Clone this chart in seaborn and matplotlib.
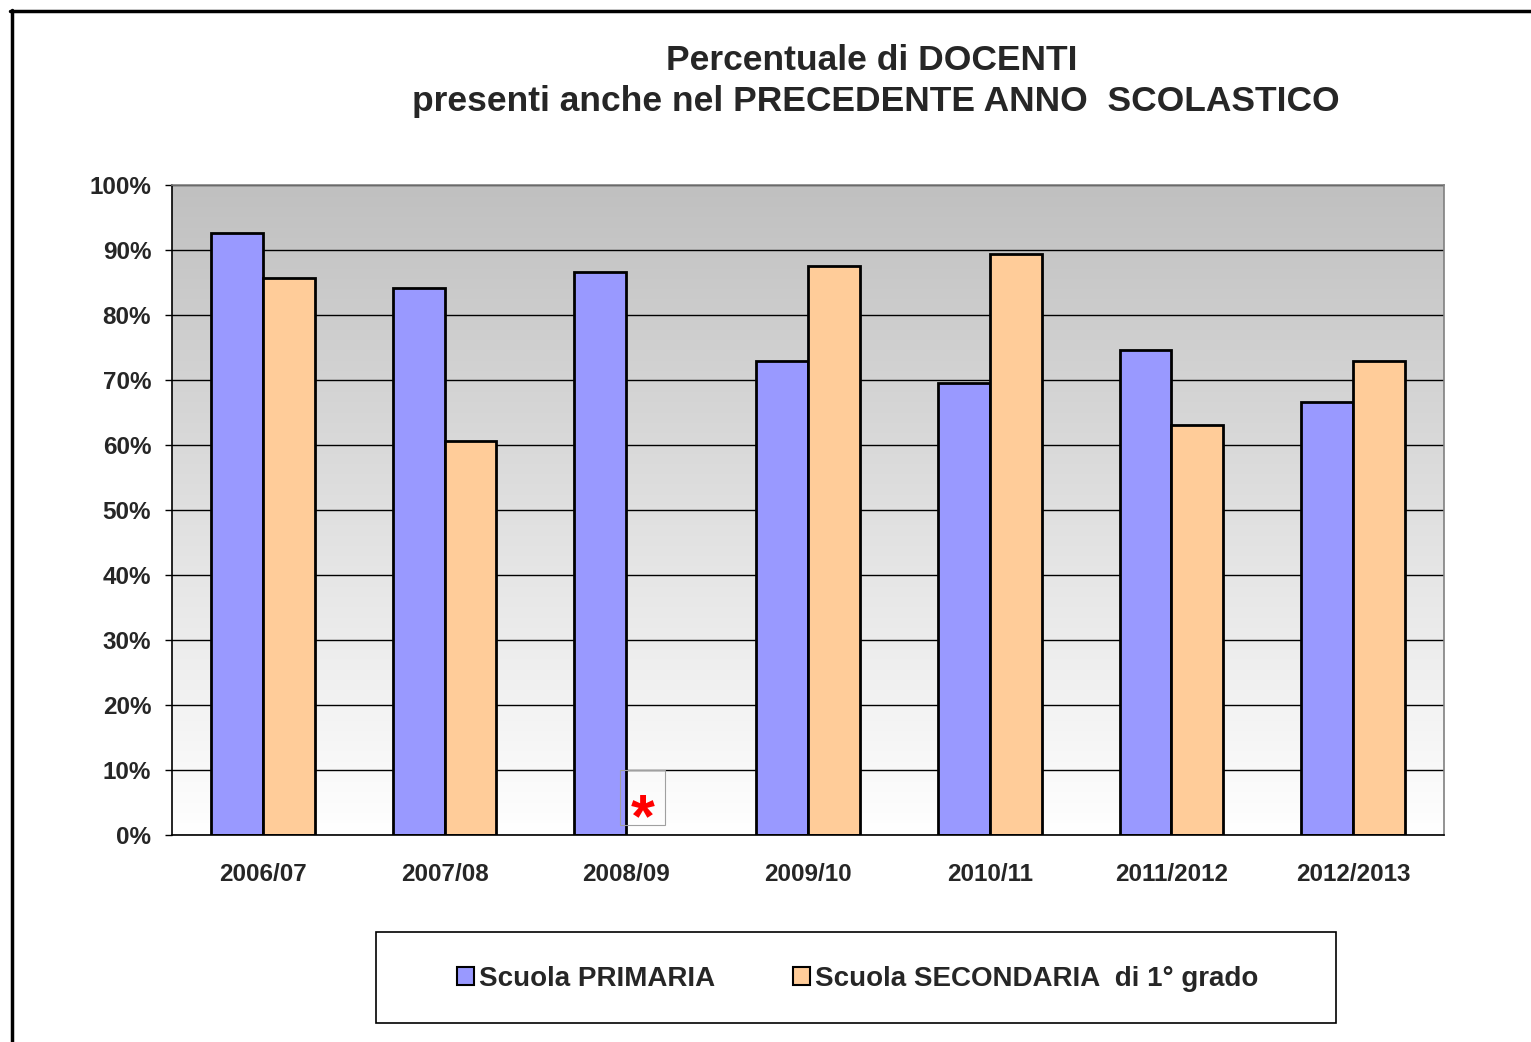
import numpy as np
import pandas as pd
import seaborn as sns
import matplotlib.pyplot as plt
from matplotlib.colors import LinearSegmentedColormap
from matplotlib.patches import Rectangle
from matplotlib.lines import Line2D

# data
anni = ["2006/07", "2007/08", "2008/09", "2009/10", "2010/11", "2011/2012", "2012/2013"]
primaria = [92.6, 84.2, 86.6, 72.9, 69.5, 74.6, 66.6]
secondaria = [85.7, 60.6, np.nan, 87.5, 89.4, 63.1, 72.9]
serie = ["Scuola PRIMARIA", "Scuola SECONDARIA  di 1° grado"]
colori = ["#9999FF", "#FFCC99"]

df = pd.DataFrame({
    "anno": anni * 2,
    "valore": primaria + secondaria,
    "scuola": [serie[0]] * len(anni) + [serie[1]] * len(anni),
})

sns.set_style("white")
plt.rcParams["font.family"] = ["Liberation Sans", "DejaVu Sans"]
plt.rcParams["font.weight"] = "bold"

fig = plt.figure(figsize=(15.31, 10.42), dpi=100)
ax = fig.add_axes([172 / 1531, 1 - 835 / 1042, 1272 / 1531, 650 / 1042])

# gray-to-white gradient background
cmap = LinearSegmentedColormap.from_list("bg", ["#FFFFFF", "#C0C0C0"])
grad = np.linspace(0, 1, 256).reshape(-1, 1)
ax.imshow(grad, cmap=cmap, origin="lower", aspect="auto",
          extent=[-0.5, len(anni) - 0.5, 0, 100], zorder=-2)

sns.barplot(data=df, x="anno", y="valore", hue="scuola", palette=colori,
            width=0.57, edgecolor="black", linewidth=2, ax=ax, zorder=2,
            saturation=1)

ax.set_xlim(-0.5, len(anni) - 0.5)
ax.set_ylim(0, 100)
ax.set_yticks(np.arange(0, 101, 10))
ax.set_yticklabels([f"{v}%" for v in range(0, 101, 10)])
ax.yaxis.grid(True, color="black", linewidth=1)
ax.set_axisbelow(True)
ax.set_xlabel("")
ax.set_ylabel("")

ax.set_xticks(np.arange(-0.5, len(anni)), minor=True)
ax.tick_params(axis="x", which="major", length=0, pad=20, labelsize=17.5)
ax.tick_params(axis="x", which="minor", length=5, width=1, color="black", direction="out")
ax.tick_params(axis="y", length=5, width=1, color="black", direction="out", pad=10, labelsize=17.5)
ax.tick_params(bottom=True, left=True)
for lab in ax.get_xticklabels() + ax.get_yticklabels():
    lab.set_fontweight("bold")

for side in ["left", "bottom"]:
    ax.spines[side].set_color("black")
    ax.spines[side].set_linewidth(1.2)
for side in ["top", "right"]:
    ax.spines[side].set_color("#808080")
    ax.spines[side].set_linewidth(1.2)

# missing data marker for 2008/09
ax.add_patch(Rectangle((1.967, 1.5), 0.247, 8.5, facecolor="none", edgecolor="#A0A0A0",
                       linewidth=0.8, zorder=4))
ax.text(2.09, 2.2, "*", color="red", fontsize=44, fontweight="bold",
        ha="center", va="center", zorder=5)

# title
fig.text(872 / 1531, 1 - 60 / 1042, "Percentuale di DOCENTI", ha="center", va="center",
         fontsize=25.5, fontweight="bold")
fig.text(876 / 1531, 1 - 101 / 1042, "presenti anche nel PRECEDENTE ANNO  SCOLASTICO", ha="center",
         va="center", fontsize=25.5, fontweight="bold")

# legend
handles, labels = ax.get_legend_handles_labels()
if ax.get_legend() is not None:
    ax.get_legend().remove()
fig.patches.append(Rectangle((376 / 1531, 1 - 1023 / 1042), 960 / 1531, 91 / 1042,
                             transform=fig.transFigure, facecolor="white",
                             edgecolor="black", linewidth=1.2))
leg = fig.legend(handles, labels, loc="center", bbox_to_anchor=(858 / 1531, 1 - 979 / 1042),
                 ncol=2, frameon=False, fontsize=20, handlelength=0.6, handleheight=0.6,
                 handletextpad=0.2, columnspacing=2.8)
for t in leg.get_texts():
    t.set_fontweight("bold")
for h in leg.legend_handles:
    h.set_linewidth(1.5)

# outer frame of the original image
fig.add_artist(Line2D([11.5 / 1531, 11.5 / 1531], [0, 1 - 10 / 1042], transform=fig.transFigure,
                      color="black", linewidth=2.5))
fig.add_artist(Line2D([10 / 1531, 1], [1 - 11 / 1042, 1 - 11 / 1042], transform=fig.transFigure,
                      color="black", linewidth=2.5))

fig.savefig("out.png", dpi=100, facecolor="white")
